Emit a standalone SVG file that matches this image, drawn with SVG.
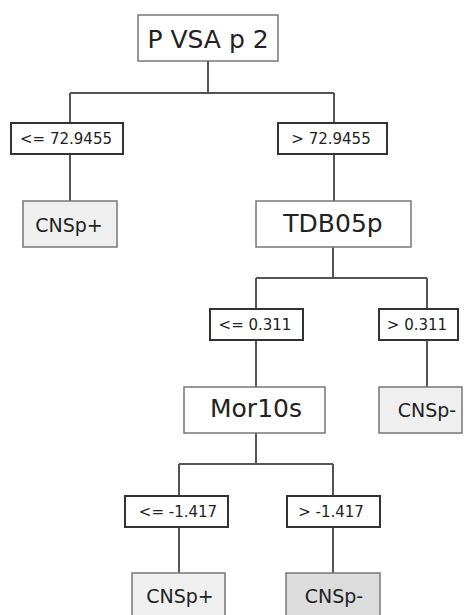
<svg xmlns="http://www.w3.org/2000/svg" width="464" height="615" viewBox="0 0 464 615">
  <style>
    text { font-family: "DejaVu Sans", "Liberation Sans", sans-serif; fill: #222; text-anchor: middle; }
    .wire { fill: none; stroke: #555; stroke-width: 2; }
    .split rect { fill: #fff; stroke: #777; stroke-width: 1.5; }
    .split text { font-size: 25px; }
    .cond rect { fill: #fff; stroke: #333; stroke-width: 2; }
    .cond text { font-size: 15px; }
    .leaf rect { fill: #efefef; stroke: #777; stroke-width: 1.5; }
    .leaf text { font-size: 19px; }
    .leaf.dark rect { fill: #dcdcdc; }
  </style>
  <rect width="464" height="615" fill="#fff"/>

  <!-- tree connectors -->
  <g id="connectors" class="wire">
    <path d="M208 61V93M70 93H334M70 93V123M334 93V123"/>
    <path d="M70 154V201M334 154V201"/>
    <path d="M333 247V278M256 278H427M256 278V309M427 278V309"/>
    <path d="M256 340V387M427 340V387"/>
    <path d="M256 433V464M179 464H333M179 464V496M333 464V496"/>
    <path d="M179 527V573M333 527V573"/>
  </g>

  <g id="root" class="split">
    <rect x="138" y="15" width="140" height="46"/>
    <text x="208" y="48">P VSA p 2</text>
  </g>
  <g id="cond-le-72" class="cond">
    <rect x="11" y="123" width="112" height="31"/>
    <text x="66" y="144">&lt;= 72.9455</text>
  </g>
  <g id="cond-gt-72" class="cond">
    <rect x="278" y="123" width="109" height="31"/>
    <text x="331" y="144">&gt; 72.9455</text>
  </g>
  <g id="leaf-cnsp-plus-1" class="leaf">
    <rect x="23" y="201" width="94" height="46"/>
    <text x="69" y="232">CNSp+</text>
  </g>
  <g id="tdb05p" class="split">
    <rect x="256" y="201" width="155" height="46"/>
    <text x="333" y="232">TDB05p</text>
  </g>
  <g id="cond-le-0311" class="cond">
    <rect x="210" y="309" width="93" height="31"/>
    <text x="255" y="330">&lt;= 0.311</text>
  </g>
  <g id="cond-gt-0311" class="cond">
    <rect x="379" y="309" width="79" height="31"/>
    <text x="417" y="330">&gt; 0.311</text>
  </g>
  <g id="mor10s" class="split">
    <rect x="184" y="387" width="141" height="46"/>
    <text x="256" y="417">Mor10s</text>
  </g>
  <g id="leaf-cnsp-minus-1" class="leaf">
    <rect x="379" y="387" width="83" height="46"/>
    <text x="427" y="417">CNSp-</text>
  </g>
  <g id="cond-le-1417" class="cond">
    <rect x="125" y="496" width="103" height="31"/>
    <text x="178" y="516.5">&lt;= -1.417</text>
  </g>
  <g id="cond-gt-1417" class="cond">
    <rect x="287" y="496" width="93" height="31"/>
    <text x="331" y="516.5">&gt; -1.417</text>
  </g>
  <g id="leaf-cnsp-plus-2" class="leaf">
    <rect x="132" y="573" width="93" height="50"/>
    <text x="180" y="603">CNSp+</text>
  </g>
  <g id="leaf-cnsp-minus-2" class="leaf dark">
    <rect x="286" y="573" width="94" height="50"/>
    <text x="334" y="603">CNSp-</text>
  </g>
</svg>
